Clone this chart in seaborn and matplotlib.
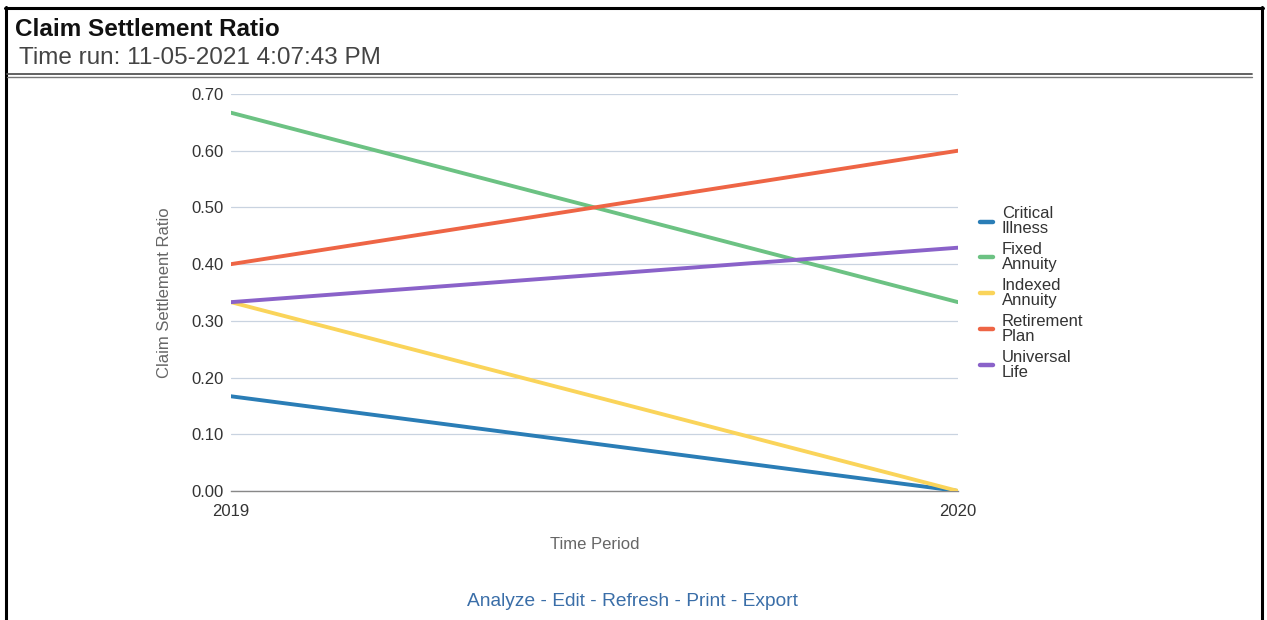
import matplotlib
matplotlib.use("Agg")
import matplotlib.pyplot as plt
from matplotlib.lines import Line2D
import seaborn as sns
import pandas as pd

# Claim settlement ratio by product line
years = [2019, 2020]
products = ["Critical\nIllness", "Fixed\nAnnuity", "Indexed\nAnnuity", "Retirement\nPlan", "Universal\nLife"]
critical_illness = [0.167, 0.000]
fixed_annuity = [0.667, 0.333]
indexed_annuity = [0.333, 0.000]
retirement_plan = [0.400, 0.600]
universal_life = [0.333, 0.429]
colors = ["#2a7db6", "#6cc283", "#fad45a", "#ee6545", "#8a62c9"]

series = [critical_illness, fixed_annuity, indexed_annuity, retirement_plan, universal_life]
df = pd.DataFrame(
    [(y, p, v) for p, vals in zip(products, series) for y, v in zip(years, vals)],
    columns=["Time Period", "Product", "Ratio"],
)

sns.set_theme(style="white")
plt.rcParams["font.family"] = ["Liberation Sans", "DejaVu Sans"]

W, H = 1267, 620
fig = plt.figure(figsize=(W / 100, H / 100), dpi=100)
ax = fig.add_axes([231 / W, 1 - 491 / H, (958 - 231) / W, (491 - 94) / H])

sns.lineplot(data=df, x="Time Period", y="Ratio", hue="Product", palette=colors,
             linewidth=2.8, ax=ax, legend=False, zorder=3)

ax.set_xlim(2019, 2020)
ax.set_ylim(0, 0.7)
ax.set_xticks(years)
ax.set_xticklabels([str(y) for y in years])
ax.set_yticks([i / 10 for i in range(8)])
ax.set_yticklabels([f"{i / 10:.2f}" for i in range(8)])
ax.grid(axis="y", color="#c9d3e0", linewidth=0.9, zorder=0)
ax.grid(axis="x", visible=False)
for s in ["top", "right", "left"]:
    ax.spines[s].set_visible(False)
ax.spines["bottom"].set_color("#888888")
ax.spines["bottom"].set_linewidth(1.0)
ax.tick_params(axis="y", length=0, labelsize=12, labelcolor="#333333", pad=5)
ax.tick_params(axis="x", length=0, labelsize=12, labelcolor="#333333", pad=9)

ax.set_xlabel("Time Period", fontsize=12, color="#666666", labelpad=13)
ax.set_ylabel("Claim Settlement Ratio", fontsize=12, color="#666666", labelpad=14)

handles = [Line2D([0], [0], color=c, linewidth=3.2) for c in colors]
leg = fig.legend(handles, products, loc="center left", bbox_to_anchor=(980 / W, 1 - 293 / H),
                 frameon=False, fontsize=12, handlelength=0.8, handletextpad=0.5,
                 labelspacing=0.35, borderaxespad=0, borderpad=0)
for t in leg.get_texts():
    t.set_color("#333333")
    t.set_linespacing(1.0)

# Header
fig.text(15 / W, 1 - 29 / H, "Claim Settlement Ratio", fontsize=17.5, fontweight="bold",
         color="#111111", va="center", ha="left")
fig.text(19 / W, 1 - 58 / H, "Time run: 11-05-2021 4:07:43 PM", fontsize=17.5,
         color="#444444", va="center", ha="left")

# Frame and header separator
fig.add_artist(Line2D([6 / W, 6 / W], [0, 1 - 7 / H], color="black", linewidth=2.2))
fig.add_artist(Line2D([1262 / W, 1262 / W], [0, 1 - 7 / H], color="black", linewidth=2.2))
fig.add_artist(Line2D([5 / W, 1263 / W], [1 - 8 / H, 1 - 8 / H], color="black", linewidth=2.2))
fig.add_artist(Line2D([7 / W, 1252 / W], [1 - 73.5 / H, 1 - 73.5 / H], color="#555555", linewidth=1.3))
fig.add_artist(Line2D([7 / W, 1252 / W], [1 - 76.5 / H, 1 - 76.5 / H], color="#777777", linewidth=1.0))

# Footer actions
links = ["Analyze", "Edit", "Refresh", "Print", "Export"]
footer = " - ".join(links)
fig.text(632 / W, 1 - 601 / H, footer, fontsize=13.8, color="#3a6ea8",
         va="center", ha="center")

fig.savefig("out.png", dpi=100)
